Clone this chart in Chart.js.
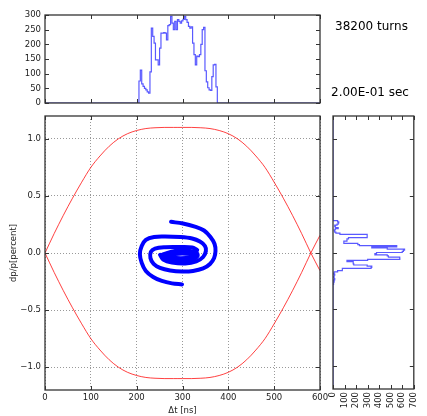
<!DOCTYPE html>
<html>
<head>
<meta charset="utf-8">
<script src="https://cdn.jsdelivr.net/npm/chart.js@4.4.1/dist/chart.umd.min.js"></script>
<style>
  html, body { margin: 0; padding: 0; background: #fff; }
  #wrap { position: relative; width: 427px; height: 416px; overflow: hidden; font-family: "DejaVu Sans", sans-serif; }
  canvas { position: absolute; left: 0; top: 0; }
  .note { position: absolute; font-size: 12px; line-height: 12px; color: #000; white-space: nowrap; }
</style>
</head>
<body>
<div id="wrap">
  <canvas id="phaseChart" width="427" height="416"></canvas>
  <canvas id="timeHist" width="427" height="416"></canvas>
  <canvas id="dpHist" width="427" height="416"></canvas>
  <div class="note" style="left:335px; top:20px;">38200 turns</div>
  <div class="note" style="left:331px; top:86px;">2.00E-01 sec</div>
</div>
<script>
// tick labels
const tTicks = [0, 100, 200, 300, 400, 500, 600];
const dpTicks = [-1.0, -0.5, 0.0, 0.5, 1.0];
const countTicks = [0, 50, 100, 150, 200, 250, 300];
const dpCountTicks = [0, 100, 200, 300, 400, 500, 600, 700];

// separatrix (ns, percent)
const sepT = [0, 20, 40, 60, 80, 100, 120, 140, 160, 180, 200, 220, 240, 260, 280, 290,
              300, 320, 340, 360, 380, 400, 420, 440, 460, 480, 500, 520, 540, 560, 580, 600];
const sepUpper = [0, 0.17, 0.33, 0.48, 0.62, 0.75, 0.85, 0.935, 1.0, 1.045, 1.073, 1.09, 1.097, 1.1, 1.1, 1.1,
                  1.1, 1.1, 1.097, 1.09, 1.073, 1.045, 1.0, 0.935, 0.85, 0.75, 0.62, 0.48, 0.33, 0.17, 0, -0.155];
const sepLower = [0, -0.17, -0.33, -0.48, -0.62, -0.75, -0.85, -0.935, -1.0, -1.045, -1.073, -1.09, -1.097, -1.1, -1.1, -1.1,
                  -1.1, -1.1, -1.097, -1.09, -1.073, -1.045, -1.0, -0.935, -0.85, -0.75, -0.62, -0.48, -0.33, -0.17, 0, 0.155];

// bunch filaments, traced along the middle of each band
const armAT = [275, 301, 327, 347, 361, 370, 372, 369, 360, 345, 323, 299, 273, 251, 237, 230, 231, 240, 262, 295, 321, 332];
const armADp = [0.273, 0.258, 0.231, 0.197, 0.140, 0.079, 0.017, -0.044, -0.096, -0.135, -0.157, -0.162, -0.153, -0.131,
                -0.096, -0.044, 0.009, 0.039, 0.051, 0.052, 0.048, 0.026];
const armBT = [299, 277, 255, 236, 220, 211, 207, 211, 220, 238, 262, 295, 321, 338, 349, 351, 345, 330, 306, 277, 258, 251];
const armBDp = [-0.275, -0.266, -0.245, -0.210, -0.157, -0.087, -0.009, 0.061, 0.114, 0.140, 0.144, 0.140, 0.127, 0.100,
                0.061, 0.017, -0.035, -0.074, -0.092, -0.083, -0.057, -0.017];
const coreT = [258, 284, 316, 330, 316, 284, 262];
const coreDp = [-0.026, 0.004, 0.004, -0.017, -0.052, -0.057, -0.044];

// time histogram: bins of 3 ns starting at 205 ns
const tBinStart = 205;
const tBinWidth = 3;
const tCounts = [75, 112, 65, 57, 50, 45, 38, 34, 106, 255,
                 227, 204, 147, 147, 130, 187, 238, 238, 240, 238,
                 215, 264, 267, 295, 272, 250, 278, 250, 284, 278,
                 272, 280, 285, 295, 284, 275, 261, 255, 260, 204,
                 165, 130, 160, 158, 165, 200, 250, 258, 110, 72,
                 52, 45, 43, 90, 130, 132, 55];

// dp histogram: bins of 0.01 % from +0.28 downwards
const dpBinTop = 0.28;
const dpBinWidth = 0.01;
const dpCounts = [40, 50, 45, 35, 15, 20, 45, 20, 10, 15, 25, 60, 296, 296, 296, 134,
                  121, 121, 94, 94, 215, 229, 552, 336, 470, 620, 610, 600, 377, 363,
                  470, 480, 578, 579, 300, 121, 175, 175, 180, 296, 336, 330, 81, 81,
                  40, 10, 5, 15, 10, 5, 10, 15, 5, 10, 5, 5];

const pts = (xs, ys) => xs.map((x, i) => ({ x: x, y: ys[i] }));

const tickFont = { family: 'DejaVu Sans', size: 8.5 };
const frameColor = '#333';

// inward ticks on all four sides + frame, like the matplotlib axes
const innerTicks = {
  id: 'innerTicks',
  afterDraw(chart, args, opts) {
    const { ctx, chartArea: a, scales } = chart;
    const len = 4;
    ctx.save();
    ctx.strokeStyle = frameColor;
    ctx.lineWidth = 1;
    ctx.beginPath();
    opts.x.forEach(v => {
      const p = Math.round(scales.x.getPixelForValue(v)) + 0.5;
      ctx.moveTo(p, a.bottom); ctx.lineTo(p, a.bottom - len);
      ctx.moveTo(p, a.top); ctx.lineTo(p, a.top + len);
    });
    opts.y.forEach(v => {
      const p = Math.round(scales.y.getPixelForValue(v)) + 0.5;
      ctx.moveTo(a.left, p); ctx.lineTo(a.left + len, p);
      ctx.moveTo(a.right, p); ctx.lineTo(a.right - len, p);
    });
    ctx.stroke();
    ctx.lineWidth = 1.3;
    ctx.strokeRect(a.left, a.top, a.right - a.left, a.bottom - a.top);
    ctx.restore();
  }
};

const fixTicks = arr => scale => { scale.ticks = arr.map(v => ({ value: v })); };
const minusFmt = d => v => (v < 0 ? '\u2212' : '') + Math.abs(v).toFixed(d);

const baseOpts = {
  responsive: false,
  animation: false,
  devicePixelRatio: 1,
  events: [],
  plugins: { legend: { display: false }, tooltip: { enabled: false } }
};

const bandStyle = { showLine: true, tension: 0.35, borderColor: '#0000ff', borderWidth: 4,
                    borderCapStyle: 'round', borderJoinStyle: 'round', pointRadius: 0 };

// main phase space
new Chart(document.getElementById('phaseChart'), {
  type: 'scatter',
  data: {
    datasets: [
      { ...bandStyle, data: pts(armAT, armADp) },
      { ...bandStyle, data: pts(armBT, armBDp) },
      { ...bandStyle, data: pts(coreT, coreDp), borderWidth: 7 },
      { data: pts(sepT, sepUpper), showLine: true, cubicInterpolationMode: 'monotone',
        borderColor: 'rgba(255,0,0,0.75)', borderWidth: 1, pointRadius: 0 },
      { data: pts(sepT, sepLower), showLine: true, cubicInterpolationMode: 'monotone',
        borderColor: 'rgba(255,0,0,0.75)', borderWidth: 1, pointRadius: 0 }
    ]
  },
  options: {
    ...baseOpts,
    layout: { autoPadding: false, padding: { left: 0, right: 107, top: 116, bottom: 0 } },
    scales: {
      x: {
        type: 'linear', min: 0, max: 600,
        afterBuildTicks: fixTicks(tTicks),
        afterFit: s => { s.height = 26; },
        grid: { color: '#999', lineWidth: 1, drawTicks: false },
        border: { display: false, dash: [1, 2] },
        ticks: { padding: 3, font: tickFont, color: '#222', callback: v => String(v) },
        title: { display: true, text: 'Δt [ns]', padding: { top: 0, bottom: 0 }, font: tickFont, color: '#222' }
      },
      y: {
        type: 'linear', min: -1.2, max: 1.2,
        afterBuildTicks: fixTicks(dpTicks),
        afterFit: s => { s.width = 45; },
        grid: { color: '#999', lineWidth: 1, drawTicks: false },
        border: { display: false, dash: [1, 2] },
        ticks: { padding: 4, font: tickFont, color: '#222', callback: minusFmt(1) },
        title: { display: true, text: 'dp/p[percent]', padding: { top: 9, bottom: 0 }, font: tickFont, color: '#222' }
      }
    },
    plugins: { ...baseOpts.plugins, innerTicks: { x: tTicks, y: dpTicks } }
  },
  plugins: [innerTicks]
});

// projection on time
const tPoints = [{ x: 0, y: 0 }];
tCounts.forEach((c, i) => tPoints.push({ x: tBinStart + i * tBinWidth, y: c }));
tPoints.push({ x: tBinStart + tCounts.length * tBinWidth, y: 0 }, { x: 600, y: 0 });

new Chart(document.getElementById('timeHist'), {
  type: 'scatter',
  data: {
    datasets: [{ data: tPoints, showLine: true, stepped: 'before', borderColor: 'rgba(0,0,255,0.65)',
                 borderWidth: 1.2, pointRadius: 0 }]
  },
  options: {
    ...baseOpts,
    layout: { autoPadding: false, padding: { left: 0, right: 107, top: 15, bottom: 313 } },
    scales: {
      x: {
        type: 'linear', min: 0, max: 600,
        afterBuildTicks: fixTicks(tTicks),
        afterFit: s => { s.height = 0; },
        grid: { display: false }, border: { display: false }, ticks: { display: false }
      },
      y: {
        type: 'linear', min: 0, max: 300,
        afterBuildTicks: fixTicks(countTicks),
        afterFit: s => { s.width = 45; },
        grid: { display: false, drawTicks: false }, border: { display: false },
        ticks: { padding: 4, font: tickFont, color: '#222' }
      }
    },
    plugins: { ...baseOpts.plugins, innerTicks: { x: tTicks, y: countTicks } }
  },
  plugins: [innerTicks]
});

// projection on dp/p, drawn sideways
const dpPoints = [{ x: 0, y: 1.2 }];
dpCounts.forEach((c, i) => dpPoints.push({ x: c, y: dpBinTop - i * dpBinWidth }));
dpPoints.push({ x: 0, y: dpBinTop - dpCounts.length * dpBinWidth }, { x: 0, y: -1.2 });

new Chart(document.getElementById('dpHist'), {
  type: 'scatter',
  data: {
    datasets: [{ data: dpPoints, showLine: true, stepped: 'after', borderColor: 'rgba(0,0,255,0.65)',
                 borderWidth: 1.2, pointRadius: 0 }]
  },
  options: {
    ...baseOpts,
    layout: { autoPadding: false, padding: { left: 333, right: 7, top: 116, bottom: 0 } },
    scales: {
      x: {
        type: 'linear', min: 0, max: 700,
        afterBuildTicks: fixTicks(dpCountTicks),
        afterFit: s => { s.height = 27; },
        grid: { display: false, drawTicks: false }, border: { display: false },
        ticks: { padding: 3, font: tickFont, color: '#222', minRotation: 90, maxRotation: 90, autoSkip: false }
      },
      y: {
        type: 'linear', min: -1.2, max: 1.2,
        afterBuildTicks: fixTicks(dpTicks),
        afterFit: s => { s.width = 0; },
        grid: { display: false }, border: { display: false }, ticks: { display: false }
      }
    },
    plugins: { ...baseOpts.plugins, innerTicks: { x: dpCountTicks, y: dpTicks } }
  },
  plugins: [innerTicks]
});
</script>
</body>
</html>
